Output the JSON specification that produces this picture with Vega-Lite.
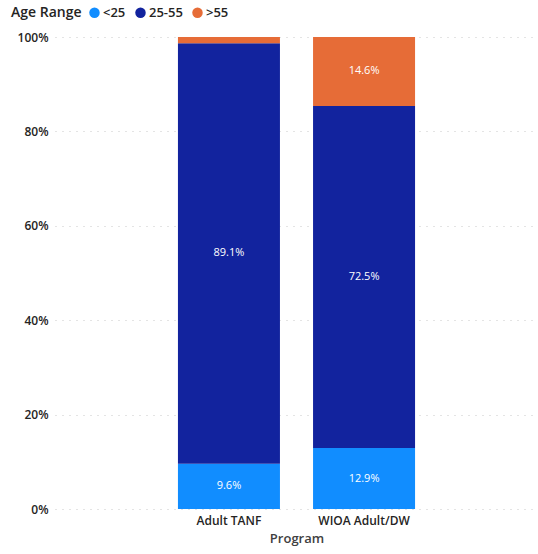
{
  "$schema": "https://vega.github.io/schema/vega-lite/v6.json",
  "width": 483,
  "height": 472,
  "autosize": "none",
  "padding": {"left": 55, "top": 37, "right": 0, "bottom": 45},
  "config": {
    "font": "Open Sans",
    "view": {"stroke": null}
  },
  "data": {
    "values": [
      {"Program": "Adult TANF", "Age": "<25", "Pct": 0.096},
      {"Program": "Adult TANF", "Age": "25-55", "Pct": 0.891},
      {"Program": "Adult TANF", "Age": ">55", "Pct": 0.013},
      {"Program": "WIOA Adult/DW", "Age": "<25", "Pct": 0.129},
      {"Program": "WIOA Adult/DW", "Age": "25-55", "Pct": 0.725},
      {"Program": "WIOA Adult/DW", "Age": ">55", "Pct": 0.146}
    ]
  },
  "transform": [
    {"calculate": "indexof(['<25','25-55','>55'], datum.Age)", "as": "order"},
    {"stack": "Pct", "groupby": ["Program"], "sort": [{"field": "order", "order": "ascending"}], "offset": "normalize", "as": ["y0", "y1"]},
    {"calculate": "(datum.y0 + datum.y1) / 2", "as": "ymid"}
  ],
  "encoding": {
    "x": {
      "field": "Program",
      "type": "nominal",
      "scale": {"paddingInner": 0.245, "paddingOuter": 0.91},
      "axis": {
        "labelAngle": 0,
        "domain": false,
        "ticks": false,
        "labelPadding": 6,
        "labelFontSize": 12,
        "labelFontWeight": 600,
        "labelColor": "#252423",
        "title": "Program",
        "titleFontSize": 13,
        "titleFontWeight": 600,
        "titleColor": "#404040",
        "titlePadding": 6
      }
    }
  },
  "layer": [
    {
      "mark": {"type": "bar"},
      "encoding": {
        "y": {
          "field": "y1",
          "type": "quantitative",
          "scale": {"domain": [0, 1]},
          "axis": {
            "format": "%",
            "values": [0, 0.2, 0.4, 0.6, 0.8, 1],
            "title": null,
            "domain": false,
            "ticks": false,
            "labelPadding": 7,
            "labelFontSize": 12,
            "labelFontWeight": 600,
            "labelColor": "#252423",
            "gridColor": "#c8c8c8",
            "gridDash": [1, 6],
            "gridWidth": 1
          }
        },
        "y2": {"field": "y0"},
        "color": {
          "field": "Age",
          "type": "nominal",
          "scale": {"domain": ["<25", "25-55", ">55"], "range": ["#118DFF", "#12239E", "#E66C37"]},
          "legend": {
            "title": "Age Range",
            "orient": "none",
            "legendX": -44,
            "legendY": -31,
            "direction": "horizontal",
            "titleOrient": "left",
            "titleFontSize": 14,
            "titleFontWeight": 600,
            "titleColor": "#252423",
            "titlePadding": 6,
            "symbolType": "circle",
            "symbolSize": 110,
            "symbolStrokeWidth": 0,
            "labelFontSize": 13,
            "labelFontWeight": 600,
            "labelColor": "#252423",
            "labelOffset": 2,
            "columnPadding": 8
          }
        }
      }
    },
    {
      "transform": [{"filter": "datum.Pct > 0.05"}],
      "mark": {"type": "text", "color": "white", "fontSize": 11, "baseline": "middle"},
      "encoding": {
        "y": {"field": "ymid", "type": "quantitative"},
        "text": {"field": "Pct", "type": "quantitative", "format": ".1%"}
      }
    }
  ]
}
